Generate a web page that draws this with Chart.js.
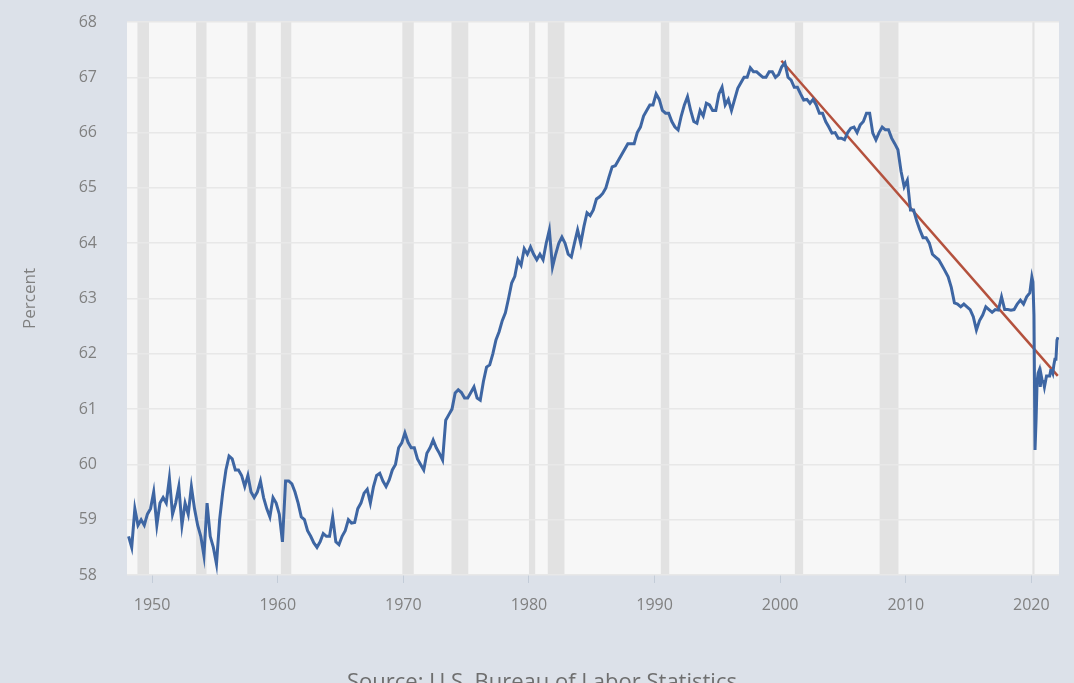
<!DOCTYPE html>
<html>
<head>
<meta charset="utf-8">
<script src="https://cdn.jsdelivr.net/npm/chart.js@4.4.1/dist/chart.umd.min.js"></script>
<style>
  html, body { margin: 0; padding: 0; overflow: hidden; background: #dce1e9; }
  #wrap { position: relative; width: 1074px; height: 683px; }
  #source {
    position: absolute; left: 347px; top: 665px;
    font: 22px "Open Sans", sans-serif; color: #6e6e6e; white-space: nowrap;
  }
</style>
</head>
<body>
<div id="wrap">
  <canvas id="lfpr" width="1074" height="683"></canvas>
  <div id="source">Source: U.S. Bureau of Labor Statistics</div>
</div>
<script>
// labor force participation rate, quarterly 1948 Q1 .. 2019 Q4
const firstYear = 1948;
const quarterly = [
  58.7, 58.5, 59.2, 58.9,   // 1948
  59.0, 58.9, 59.1, 59.2,   // 1949
  59.5, 58.9, 59.3, 59.4,   // 1950
  59.3, 59.75, 59.1, 59.3,  // 1951
  59.6, 58.9, 59.3, 59.1,   // 1952
  59.6, 59.2, 58.9, 58.7,   // 1953
  58.35, 59.3, 58.7, 58.5,  // 1954
  58.2, 59.0, 59.5, 59.9,   // 1955
  60.15, 60.1, 59.9, 59.9,  // 1956
  59.8, 59.6, 59.8, 59.5,   // 1957
  59.4, 59.5, 59.7, 59.4,   // 1958
  59.2, 59.05, 59.4, 59.3,  // 1959
  59.1, 58.6, 59.7, 59.7,   // 1960
  59.65, 59.5, 59.3, 59.05, // 1961
  59.0, 58.8, 58.7, 58.58,  // 1962
  58.5, 58.6, 58.75, 58.7,  // 1963
  58.7, 59.05, 58.6, 58.55, // 1964
  58.7, 58.8, 59.0, 58.94,  // 1965
  58.95, 59.2, 59.3, 59.48, // 1966
  59.55, 59.3, 59.6, 59.8,  // 1967
  59.84, 59.7, 59.6, 59.72, // 1968
  59.9, 60.0, 60.3, 60.39,  // 1969
  60.57, 60.4, 60.3, 60.3,  // 1970
  60.1, 60.0, 59.9, 60.2,   // 1971
  60.3, 60.44, 60.3, 60.2,  // 1972
  60.08, 60.8, 60.9, 61.0,  // 1973
  61.29, 61.35, 61.3, 61.2, // 1974
  61.2, 61.3, 61.4, 61.2,   // 1975
  61.16, 61.5, 61.76, 61.8, // 1976
  62.0, 62.25, 62.4, 62.6,  // 1977
  62.74, 63.0, 63.28, 63.4, // 1978
  63.7, 63.6, 63.9, 63.8,   // 1979
  63.93, 63.8, 63.7, 63.8,  // 1980
  63.7, 64.0, 64.24, 63.57, // 1981
  63.8, 64.0, 64.11, 64.0,  // 1982
  63.8, 63.75, 64.0, 64.24, // 1983
  64.0, 64.3, 64.55, 64.5,  // 1984
  64.6, 64.8, 64.84, 64.9,  // 1985
  65.0, 65.2, 65.38, 65.4,  // 1986
  65.5, 65.6, 65.7, 65.8,   // 1987
  65.8, 65.8, 66.0, 66.1,   // 1988
  66.3, 66.4, 66.5, 66.5,   // 1989
  66.7, 66.6, 66.4, 66.35,  // 1990
  66.35, 66.2, 66.1, 66.05, // 1991
  66.3, 66.5, 66.65, 66.4,  // 1992
  66.2, 66.17, 66.4, 66.3,  // 1993
  66.53, 66.5, 66.4, 66.4,  // 1994
  66.7, 66.82, 66.5, 66.6,  // 1995
  66.4, 66.6, 66.8, 66.9,   // 1996
  67.0, 67.0, 67.17, 67.1,  // 1997
  67.1, 67.05, 67.0, 67.0,  // 1998
  67.1, 67.1, 67.0, 67.05,  // 1999
  67.19, 67.26, 67.0, 66.95,// 2000
  66.82, 66.82, 66.7, 66.59,// 2001
  66.6, 66.53, 66.6, 66.5,  // 2002
  66.35, 66.35, 66.2, 66.1, // 2003
  65.99, 66.0, 65.9, 65.9,  // 2004
  65.87, 66.0, 66.08, 66.1, // 2005
  66.0, 66.14, 66.2, 66.35, // 2006
  66.35, 65.99, 65.87, 66.0,// 2007
  66.1, 66.05, 66.05, 65.9, // 2008
  65.8, 65.69, 65.3, 65.02, // 2009
  65.14, 64.6, 64.6, 64.4,  // 2010
  64.24, 64.1, 64.1, 64.0,  // 2011
  63.8, 63.75, 63.7, 63.6,  // 2012
  63.5, 63.39, 63.2, 62.92, // 2013
  62.9, 62.85, 62.9, 62.85, // 2014
  62.8, 62.67, 62.43, 62.6, // 2015
  62.7, 62.85, 62.8, 62.75, // 2016
  62.8, 62.79, 63.03, 62.8, // 2017
  62.8, 62.79, 62.8, 62.9,  // 2018
  62.97, 62.9, 63.03, 63.1  // 2019
];
// monthly from Jan 2020
const monthlyStart = 2020;
const monthly = [
  63.39, 63.3, 62.7, 60.26, 60.8, 61.5, 61.65, 61.7, 61.4, 61.6, 61.5, 61.5, // 2020
  61.4, 61.5, 61.6, 61.6, 61.6, 61.6, 61.7, 61.7, 61.65, 61.8, 61.9, 61.9,   // 2021
  62.25, 62.3                                                                  // 2022
];

// straight trend line drawn over the series
const trendYears = [2000.1, 2022.1];
const trendValues = [67.3, 61.6];

// recessions (decimal years)
const recessions = [
  [1948.83, 1949.75], [1953.5, 1954.33], [1957.58, 1958.25], [1960.25, 1961.08],
  [1969.92, 1970.83], [1973.83, 1975.17], [1980.0, 1980.5], [1981.5, 1982.83],
  [1990.5, 1991.17], [2001.17, 2001.83], [2007.92, 2009.42], [2020.08, 2020.25]
];

const xTicks = [1950, 1960, 1970, 1980, 1990, 2000, 2010, 2020];
const yTicks = [58, 59, 60, 61, 62, 63, 64, 65, 66, 67, 68];

const series = quarterly.map((v, i) => ({ x: firstYear + i / 4 + 0.125, y: v }))
  .concat(monthly.map((v, i) => ({ x: monthlyStart + i / 12 + 0.04, y: v })));
const trend = trendYears.map((x, i) => ({ x: x, y: trendValues[i] }));

const backdrop = {
  id: 'backdrop',
  beforeDraw(chart) {
    const { ctx, chartArea: a, scales: { x } } = chart;
    ctx.save();
    ctx.fillStyle = '#f7f7f7';
    ctx.fillRect(a.left, a.top, a.right - a.left, a.bottom - a.top);
    ctx.fillStyle = '#e2e2e2';
    recessions.forEach(([s, e]) => {
      const x0 = x.getPixelForValue(s), x1 = x.getPixelForValue(e);
      ctx.fillRect(x0, a.top, x1 - x0, a.bottom - a.top);
    });
    ctx.restore();
  }
};

const tickFont = { family: '"Open Sans", sans-serif', size: 16 };

new Chart(document.getElementById('lfpr').getContext('2d'), {
  type: 'line',
  data: {
    datasets: [
      {
        data: series,
        borderColor: '#3e66a3',
        borderWidth: 3,
        pointRadius: 0,
        tension: 0,
      },
      {
        data: trend,
        borderColor: '#b4513d',
        borderWidth: 2.5,
        pointRadius: 0,
      },
    ],
  },
  options: {
    responsive: false,
    animation: false,
    devicePixelRatio: 1,
    layout: { padding: { top: 22, right: 15, left: 0, bottom: 0 } },
    scales: {
      x: {
        type: 'linear',
        min: 1948,
        max: 2022.2,
        afterFit(s) { s.height = 108; },
        afterBuildTicks(s) { s.ticks = xTicks.map(v => ({ value: v })); },
        grid: { drawOnChartArea: false, drawTicks: true, tickLength: 8, color: '#c3ccd8' },
        border: { display: false },
        ticks: { color: '#808080', font: tickFont, padding: 13, maxRotation: 0, callback: v => String(v) },
      },
      y: {
        min: 58,
        max: 68,
        afterFit(s) { s.width = 127; s.paddingTop = 0; s.paddingBottom = 0; },
        afterBuildTicks(s) { s.ticks = yTicks.map(v => ({ value: v })); },
        grid: { color: '#e8e8e8', lineWidth: 1.5, drawTicks: false },
        border: { display: false },
        ticks: { color: '#808080', font: tickFont, padding: 30, callback: v => String(v) },
        title: {
          display: true,
          text: 'Percent',
          color: '#808080',
          font: { family: '"Open Sans", sans-serif', size: 17 },
          padding: { top: 20, bottom: 0 },
        },
      },
    },
    plugins: {
      legend: { display: false },
      tooltip: { enabled: false },
    },
  },
  plugins: [backdrop],
});
</script>
</body>
</html>
